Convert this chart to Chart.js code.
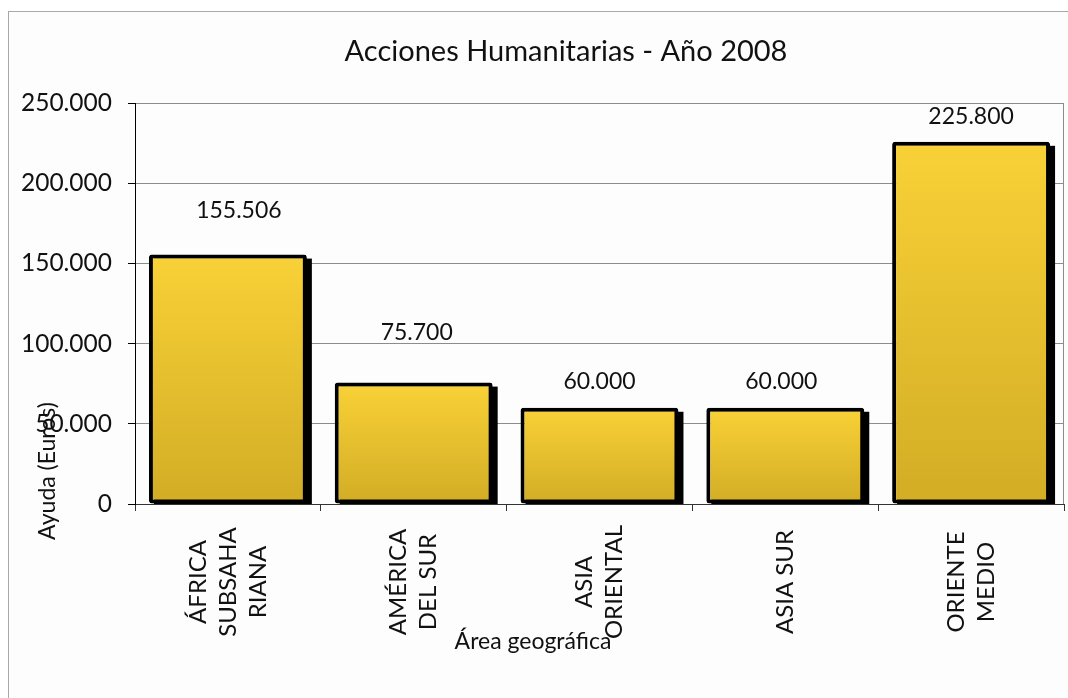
<!DOCTYPE html>
<html lang="es">
<head>
<meta charset="utf-8">
<title>Acciones Humanitarias - Año 2008</title>
<script src="https://cdn.jsdelivr.net/npm/chart.js@4.4.1/dist/chart.umd.min.js"></script>
<style>
  html, body { margin: 0; padding: 0; background: #fff; }
  #wrap { width: 1068px; height: 698px; }
</style>
</head>
<body>
<div id="wrap"><canvas id="myChart" width="1068" height="698"></canvas></div>
<script>
window.addEventListener("DOMContentLoaded", () => {

  // data
  const areas = [
    ["ÁFRICA", "SUBSAHA", "RIANA"],
    ["AMÉRICA", "DEL SUR"],
    ["ASIA", "ORIENTAL"],
    ["ASIA SUR"],
    ["ORIENTE", "MEDIO"]
  ];
  const ayuda = [155506, 75700, 60000, 60000, 225800];
  const yTicks = [0, 50000, 100000, 150000, 200000, 250000];

  const chartTitle = "Acciones Humanitarias - Año 2008";
  const xTitle = "Área geográfica";
  const yTitle = "Ayuda (Euros)";

  const FONT = "Lato, 'DejaVu Sans', sans-serif";

  // 250000 -> "250.000"
  function fmt(n) {
    return String(n).replace(/\B(?=(\d{3})+(?!\d))/g, ".");
  }

  // outer frame + background
  const frame = {
    id: "frame",
    beforeDraw(chart) {
      const { ctx, width, height } = chart;
      ctx.save();
      ctx.fillStyle = "#ffffff";
      ctx.fillRect(0, 0, width, height);
      ctx.fillStyle = "#fdfdfd";
      ctx.fillRect(8, 11, width, height);
      ctx.strokeStyle = "#a8a8a8";
      ctx.lineWidth = 1;
      ctx.strokeRect(8.5, 11.5, width + 20, height + 20);
      ctx.restore();
    }
  };

  // right border of the plot + hard black drop shadow behind each bar
  const barShadow = {
    id: "barShadow",
    beforeDatasetsDraw(chart, args, opts) {
      const { ctx, chartArea: a } = chart;
      ctx.save();
      ctx.strokeStyle = "#8c8c8c";
      ctx.lineWidth = 1;
      ctx.beginPath();
      ctx.moveTo(Math.round(a.right) - 0.5, a.top);
      ctx.lineTo(Math.round(a.right) - 0.5, a.bottom);
      ctx.stroke();

      ctx.beginPath();
      ctx.rect(a.left, a.top, a.right - a.left, a.bottom - a.top);
      ctx.clip();
      ctx.fillStyle = "#000";
      chart.getDatasetMeta(0).data.forEach(bar => {
        const { x, y, base, width } = bar.getProps(["x", "y", "base", "width"], true);
        ctx.fillRect(x - width / 2 + opts.dx, y + opts.dy, width, base - y);
      });
      ctx.restore();
    }
  };

  // value labels above the bars
  const valueLabels = {
    id: "valueLabels",
    afterDatasetsDraw(chart, args, opts) {
      const { ctx } = chart;
      const values = chart.data.datasets[0].data;
      ctx.save();
      ctx.font = "23px " + FONT;
      ctx.fillStyle = "#111";
      ctx.textAlign = "center";
      ctx.textBaseline = "middle";
      chart.getDatasetMeta(0).data.forEach((bar, i) => {
        const [dx, dy] = opts.offsets[i];
        ctx.fillText(fmt(values[i]), bar.x + dx, bar.y + dy);
      });
      ctx.restore();
    }
  };

  // chart title, rotated centred category labels and the two axis titles
  const axisText = {
    id: "axisText",
    afterDraw(chart) {
      const { ctx, chartArea: a } = chart;
      const xs = chart.scales.x;
      ctx.save();
      ctx.fillStyle = "#111";
      ctx.textAlign = "center";
      ctx.textBaseline = "middle";

      ctx.font = "29px " + FONT;
      ctx.fillText(chartTitle, 566, 52);

      ctx.font = "24px " + FONT;
      chart.data.labels.forEach((lines, i) => {
        const cx = xs.getPixelForTick(i);
        lines.forEach((line, j) => {
          ctx.save();
          ctx.translate(cx + (j - (lines.length - 1) / 2) * 30, a.bottom + 78);
          ctx.rotate(-Math.PI / 2);
          ctx.fillText(line, 0, 0);
          ctx.restore();
        });
      });

      ctx.font = "23px " + FONT;
      ctx.fillText(xTitle, 533, a.bottom + 138);

      ctx.save();
      ctx.translate(48, 471);
      ctx.rotate(-Math.PI / 2);
      ctx.fillText(yTitle, 0, 0);
      ctx.restore();
      ctx.restore();
    }
  };

  function barFill(context) {
    const chart = context.chart;
    if (!chart.chartArea || !context.parsed) return "#e8c02e";
    const ys = chart.scales.y;
    const top = ys.getPixelForValue(context.parsed.y);
    const bottom = ys.getPixelForValue(0);
    const g = chart.ctx.createLinearGradient(0, top, 0, bottom);
    g.addColorStop(0, "#f9d137");
    g.addColorStop(1, "#d2ad25");
    return g;
  }

  new Chart("myChart", {
    type: "bar",
    data: {
      labels: areas,
      datasets: [{
        data: ayuda,
        backgroundColor: barFill,
        borderColor: "#000",
        borderWidth: 4,
        borderRadius: 3,
        borderSkipped: false,
        barPercentage: 0.85,
        categoryPercentage: 1
      }]
    },
    options: {
      responsive: false,
      animation: false,
      events: [],
      devicePixelRatio: 1,
      layout: { padding: { top: 103, left: 0, right: 4, bottom: 0 } },
      plugins: {
        legend: { display: false },
        tooltip: { enabled: false },
        title: { display: false },
        barShadow: { dx: 5, dy: 4 },
        valueLabels: {
          offsets: [[11, -44], [3, -50], [0, -26], [-4, -26], [0, -25]]
        }
      },
      scales: {
        x: {
          grid: {
            offset: true,
            drawOnChartArea: false,
            tickLength: 7,
            tickColor: "#333"
          },
          border: { color: "#333", width: 1 },
          ticks: { display: false },
          afterFit: s => { s.height = 194; }
        },
        y: {
          min: yTicks[0],
          max: yTicks[yTicks.length - 1],
          ticks: {
            stepSize: yTicks[1] - yTicks[0],
            color: "#111",
            padding: 16,
            font: { family: FONT, size: 24.5 },
            callback: v => fmt(v)
          },
          grid: {
            color: "#8c8c8c",
            tickColor: "#000",
            tickLength: 7
          },
          border: { color: "#000", width: 1 },
          afterFit: s => { s.width = 135; }
        }
      }
    },
    plugins: [frame, barShadow, valueLabels, axisText]
  });
});
</script>
</body>
</html>
